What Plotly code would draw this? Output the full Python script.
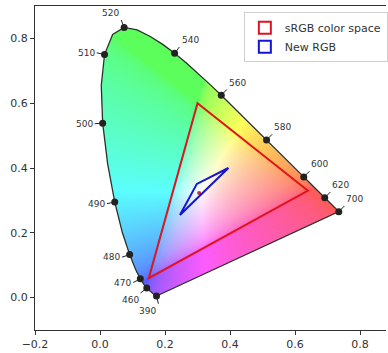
import base64, struct, zlib
import numpy as np
import plotly.graph_objects as go

# CIE 1931 2-degree spectral locus (chromaticity x, y), 380-700 nm in 5 nm steps
wavelengths = list(range(380, 705, 5))
locus_x = [0.1741, 0.1740, 0.1738, 0.1736, 0.1733, 0.1730, 0.1726, 0.1721, 0.1714, 0.1703,
           0.1689, 0.1669, 0.1644, 0.1611, 0.1566, 0.1510, 0.1440, 0.1355, 0.1241, 0.1096,
           0.0913, 0.0687, 0.0454, 0.0235, 0.0082, 0.0039, 0.0139, 0.0389, 0.0743, 0.1142,
           0.1547, 0.1929, 0.2296, 0.2658, 0.3016, 0.3373, 0.3731, 0.4087, 0.4441, 0.4788,
           0.5125, 0.5448, 0.5752, 0.6029, 0.6270, 0.6482, 0.6658, 0.6801, 0.6915, 0.7006,
           0.7079, 0.7140, 0.7190, 0.7230, 0.7260, 0.7283, 0.7300, 0.7311, 0.7320, 0.7327,
           0.7334, 0.7340, 0.7344, 0.7346, 0.7347]
locus_y = [0.0050, 0.0050, 0.0049, 0.0049, 0.0048, 0.0048, 0.0048, 0.0048, 0.0051, 0.0058,
           0.0069, 0.0086, 0.0109, 0.0138, 0.0177, 0.0227, 0.0297, 0.0399, 0.0578, 0.0868,
           0.1327, 0.2007, 0.2950, 0.4127, 0.5384, 0.6548, 0.7502, 0.8120, 0.8338, 0.8262,
           0.8059, 0.7816, 0.7543, 0.7243, 0.6923, 0.6589, 0.6245, 0.5896, 0.5547, 0.5202,
           0.4866, 0.4544, 0.4242, 0.3965, 0.3725, 0.3514, 0.3340, 0.3197, 0.3083, 0.2993,
           0.2920, 0.2859, 0.2809, 0.2770, 0.2740, 0.2717, 0.2700, 0.2689, 0.2680, 0.2673,
           0.2666, 0.2660, 0.2656, 0.2654, 0.2653]

label_wavelengths = [390, 460, 470, 480, 490, 500, 510, 520, 540, 560, 580, 600, 620, 700]

srgb_name = "sRGB color space"
srgb_x = [0.64, 0.30, 0.15]
srgb_y = [0.33, 0.60, 0.06]

new_name = "New RGB"
new_x = [0.395, 0.298, 0.246]
new_y = [0.400, 0.351, 0.255]

white_x = [0.305]
white_y = [0.323]

x_ticks = [-0.2, 0.0, 0.2, 0.4, 0.6, 0.8]
y_ticks = [0.0, 0.2, 0.4, 0.6, 0.8]

# ---------- chromaticity fill image ----------
LX, LY = np.array(locus_x), np.array(locus_y)
x0, x1, y0, y1 = 0.0, 0.74, 0.0, 0.84
step = 0.0025
nx = int(round((x1 - x0) / step))
ny = int(round((y1 - y0) / step))
gx = x0 + (np.arange(nx) + 0.5) * step
gy = y1 - (np.arange(ny) + 0.5) * step  # top row first
XX, YY = np.meshgrid(gx, gy)

inside = np.zeros(XX.shape, dtype=bool)
px = np.append(LX, LX[0]); py = np.append(LY, LY[0])
for i in range(len(px) - 1):
    xa, ya, xb, yb = px[i], py[i], px[i + 1], py[i + 1]
    cond = (ya > YY) != (yb > YY)
    with np.errstate(divide="ignore", invalid="ignore"):
        xint = xa + (YY - ya) * (xb - xa) / (yb - ya)
    inside ^= cond & (XX < xint)

Yv = np.ones_like(XX)
Xv = XX / np.maximum(YY, 1e-6)
Zv = (1 - XX - YY) / np.maximum(YY, 1e-6)
M = np.array([[3.2406, -1.5372, -0.4986], [-0.9689, 1.8758, 0.0415], [0.0557, -0.2040, 1.0570]])
rgb = np.einsum("ij,hwj->hwi", M, np.stack([Xv, Yv, Zv], axis=-1))
rgb = rgb / np.max(rgb, axis=-1, keepdims=True)
rgb = np.clip(rgb, 0, 1)
rgb = np.where(rgb <= 0.0031308, 12.92 * rgb, 1.055 * np.power(rgb, 1 / 2.4) - 0.055)
wash = 0.36
rgb = rgb * (1 - wash) + wash
rgba = np.zeros((ny, nx, 4), dtype=np.uint8)
rgba[..., :3] = np.clip(rgb * 255, 0, 255).astype(np.uint8)
rgba[..., 3] = np.where(inside, 255, 0).astype(np.uint8)

def png_bytes(arr):
    h, w, _ = arr.shape
    raw = b"".join(b"\x00" + arr[r].tobytes() for r in range(h))
    def chunk(t, d):
        c = struct.pack(">I", len(d)) + t + d
        return c + struct.pack(">I", zlib.crc32(t + d) & 0xffffffff)
    return (b"\x89PNG\r\n\x1a\n" + chunk(b"IHDR", struct.pack(">IIBBBBB", w, h, 8, 6, 0, 0, 0))
            + chunk(b"IDAT", zlib.compress(raw, 9)) + chunk(b"IEND", b""))

img_src = "data:image/png;base64," + base64.b64encode(png_bytes(rgba)).decode()

fig = go.Figure()

# spectral locus outline (closed with purple line)
fig.add_trace(go.Scatter(x=locus_x + [locus_x[0]], y=locus_y + [locus_y[0]], mode="lines",
                         line=dict(color="#2a332a", width=1.3), showlegend=False, hoverinfo="skip"))

def tri_path(xs, ys):
    pts = " L ".join(f"{a},{b}" for a, b in zip(xs, ys))
    return f"M {pts} Z"

red, blue = "#e0141e", "#1414d4"
shapes = [
    dict(type="path", xref="x", yref="y", path=tri_path(srgb_x, srgb_y),
         line=dict(color=red, width=2), fillcolor="rgba(0,0,0,0)", layer="above"),
    dict(type="path", xref="x", yref="y", path=tri_path(new_x, new_y),
         line=dict(color=blue, width=2), fillcolor="rgba(0,0,0,0)", layer="above"),
    # legend-only rectangle entries (placed outside the visible range)
    dict(type="rect", xref="x", yref="y", x0=5, x1=5.1, y0=5, y1=5.1, name=srgb_name,
         showlegend=True, line=dict(color=red, width=2), fillcolor="rgba(255,255,255,0)"),
    dict(type="rect", xref="x", yref="y", x0=5, x1=5.1, y0=5, y1=5.1, name=new_name,
         showlegend=True, line=dict(color=blue, width=2), fillcolor="rgba(255,255,255,0)"),
]

# white point mark
fig.add_trace(go.Scatter(x=white_x, y=white_y, mode="markers", showlegend=False,
                         marker=dict(color="#c03040", size=4, symbol="circle")))

# wavelength dots and labels
lab_x, lab_y = [], []
annotations = []
n_wl = len(wavelengths)
for wl in label_wavelengths:
    i = wavelengths.index(wl)
    xa, ya = locus_x[i], locus_y[i]
    lab_x.append(xa); lab_y.append(ya)
    ip, inn = max(i - 2, 0), min(i + 2, n_wl - 1)
    tx, ty = locus_x[inn] - locus_x[ip], locus_y[inn] - locus_y[ip]
    nrm = (tx * tx + ty * ty) ** 0.5
    nxv, nyv = -ty / nrm, tx / nrm
    L = 8
    xanchor = "left" if nxv > 0.3 else "right"
    yanchor = "bottom" if nyv > 0.5 else ("top" if nyv < -0.5 else "middle")
    annotations.append(dict(x=xa, y=ya, xref="x", yref="y", text=str(wl), showarrow=True,
                            ax=nxv * L, ay=-nyv * L, arrowhead=0, arrowwidth=1, arrowcolor="#222",
                            standoff=0, xanchor=xanchor, yanchor=yanchor,
                            font=dict(size=9, color="#333", family="DejaVu Sans")))
fig.add_trace(go.Scatter(x=lab_x, y=lab_y, mode="markers", showlegend=False,
                         marker=dict(color="#222", size=7)))

fig.update_layout(
    width=388, height=353,
    margin=dict(l=35, r=2, t=6, b=23, autoexpand=False),
    paper_bgcolor="white", plot_bgcolor="white",
    font=dict(family="DejaVu Sans", size=11, color="#333"),
    images=[dict(source=img_src, xref="x", yref="y", x=x0, y=y1, sizex=x1 - x0, sizey=y1 - y0,
                 xanchor="left", yanchor="top", sizing="stretch", layer="below")],
    shapes=shapes,
    annotations=annotations,
    legend=dict(x=0.595, y=0.981, xanchor="left", yanchor="top", bgcolor="white",
                bordercolor="#d0d0d0", borderwidth=1, font=dict(size=11, color="#333"),
                tracegroupgap=0),
    xaxis=dict(range=[-0.2, 0.88], tickvals=x_ticks, ticktext=[f"{v:.1f}".replace("-", "\u2212") for v in x_ticks],
               showgrid=False, zeroline=False, showline=True, linecolor="#333", linewidth=1,
               mirror=True, ticks="outside", ticklen=4, tickcolor="#333", automargin=False),
    yaxis=dict(range=[-0.1, 0.9], tickvals=y_ticks, ticktext=[f"{v:.1f}" for v in y_ticks],
               showgrid=False, zeroline=False, showline=True, linecolor="#333", linewidth=1,
               mirror=False, ticks="outside", ticklen=4, tickcolor="#333", automargin=False),
)

fig.write_html("out.html", config={"displayModeBar": False},
               post_script="document.body.style.margin='0';")
